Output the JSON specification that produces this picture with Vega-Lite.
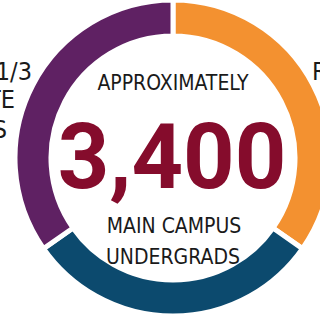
{
  "$schema": "https://vega.github.io/schema/vega-lite/v6.json",
  "width": 320,
  "height": 316,
  "autosize": "none",
  "padding": 0,
  "background": "white",
  "view": {"stroke": null},
  "config": {"font": "DejaVu Sans Condensed"},
  "datasets": {
    "ring": [
      {"segment": "A", "share": 125, "order": 1},
      {"segment": "B", "share": 110, "order": 2},
      {"segment": "C", "share": 125, "order": 3}
    ]
  },
  "layer": [
    {
      "data": {"name": "ring"},
      "mark": {"type": "arc", "outerRadius": 158, "innerRadius": 122, "stroke": "white", "strokeWidth": 5},
      "encoding": {
        "x": {"datum": 173, "type": "quantitative", "scale": {"domain": [0, 320], "nice": false, "zero": false}, "axis": null},
        "y": {"datum": 158, "type": "quantitative", "scale": {"domain": [0, 316], "nice": false, "zero": false, "reverse": true}, "axis": null},
        "theta": {"field": "share", "type": "quantitative", "stack": true},
        "order": {"field": "order", "type": "quantitative"},
        "color": {"field": "segment", "type": "nominal", "legend": null,
          "scale": {"domain": ["A", "B", "C"], "range": ["#f39130", "#0c4a6e", "#5f2163"]}}
      }
    },
    {
      "data": {"values": [{"label": "APPROXIMATELY"}]},
      "mark": {"type": "text", "fontSize": 21, "color": "#1a1a1a", "align": "center", "baseline": "alphabetic"},
      "encoding": {"x": {"datum": 173, "type": "quantitative"}, "y": {"datum": 90, "type": "quantitative"}, "text": {"field": "label"}}
    },
    {
      "data": {"values": [{"label": "3,400"}]},
      "mark": {"type": "text", "font": "Roboto", "fontSize": 90, "fontWeight": "bold", "color": "#850c2c", "align": "center", "baseline": "alphabetic"},
      "encoding": {"x": {"datum": 172, "type": "quantitative"}, "y": {"datum": 188, "type": "quantitative"}, "text": {"field": "label"}}
    },
    {
      "data": {"values": [{"label": "MAIN CAMPUS"}]},
      "mark": {"type": "text", "fontSize": 21, "color": "#1a1a1a", "align": "center", "baseline": "alphabetic"},
      "encoding": {"x": {"datum": 174, "type": "quantitative"}, "y": {"datum": 233, "type": "quantitative"}, "text": {"field": "label"}}
    },
    {
      "data": {"values": [{"label": "UNDERGRADS"}]},
      "mark": {"type": "text", "fontSize": 21, "color": "#1a1a1a", "align": "center", "baseline": "alphabetic"},
      "encoding": {"x": {"datum": 173, "type": "quantitative"}, "y": {"datum": 264, "type": "quantitative"}, "text": {"field": "label"}}
    },
    {
      "data": {"values": [{"label": "1/3"}]},
      "mark": {"type": "text", "fontSize": 25, "color": "#1a1a1a", "align": "right", "baseline": "alphabetic"},
      "encoding": {"x": {"datum": 32, "type": "quantitative"}, "y": {"datum": 80, "type": "quantitative"}, "text": {"field": "label"}}
    },
    {
      "data": {"values": [{"label": "TE"}]},
      "mark": {"type": "text", "fontSize": 25, "color": "#1a1a1a", "align": "right", "baseline": "alphabetic"},
      "encoding": {"x": {"datum": 15, "type": "quantitative"}, "y": {"datum": 108, "type": "quantitative"}, "text": {"field": "label"}}
    },
    {
      "data": {"values": [{"label": "S"}]},
      "mark": {"type": "text", "fontSize": 25, "color": "#1a1a1a", "align": "right", "baseline": "alphabetic"},
      "encoding": {"x": {"datum": 7, "type": "quantitative"}, "y": {"datum": 138, "type": "quantitative"}, "text": {"field": "label"}}
    },
    {
      "data": {"values": [{"label": "R"}]},
      "mark": {"type": "text", "fontSize": 25, "color": "#1a1a1a", "align": "left", "baseline": "alphabetic"},
      "encoding": {"x": {"datum": 312, "type": "quantitative"}, "y": {"datum": 80, "type": "quantitative"}, "text": {"field": "label"}}
    }
  ]
}
